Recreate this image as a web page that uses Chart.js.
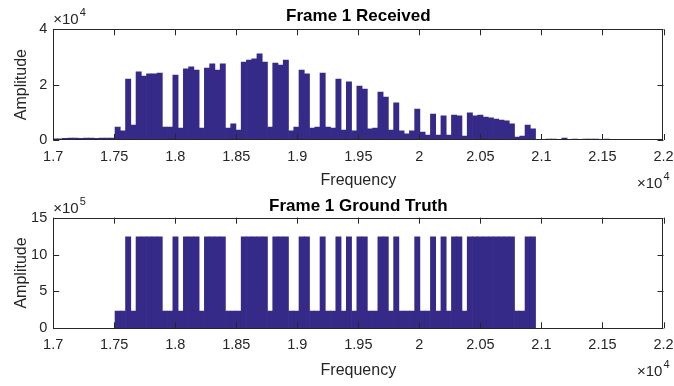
<!DOCTYPE html>
<html>
<head>
<meta charset="utf-8">
<script src="https://cdn.jsdelivr.net/npm/chart.js@4.4.1/dist/chart.umd.min.js"></script>
<style>
  html, body { margin: 0; padding: 0; background: #fff; }
  body { width: 674px; height: 386px; position: relative; overflow: hidden; }
  canvas { position: absolute; left: 0; }
  #rx { top: 0; }
  #gt { top: 190px; }
</style>
</head>
<body>
<canvas id="rx" width="674" height="193"></canvas>
<canvas id="gt" width="674" height="196"></canvas>
<script>
// FFT bin spacing (Hz) and first bin index of each series
const binHz = 44100 / 1024;
const rxFirstBin = 395;
const gtFirstBin = 407;

// Frame 1 received amplitude, x10^4
const received = [
  0.04, 0.04, 0.06, 0.07, 0.07, 0.06, 0.07, 0.07, 0.06, 0.07, 0.07, 0.07,
  0.47, 0.33, 2.2, 0.54, 2.46, 2.31, 2.39, 2.39, 2.42, 0.47,
  0.47, 2.35, 0.43, 2.57, 2.64, 2.53, 0.43, 2.6, 2.75, 2.53,
  2.75, 0.43, 0.58, 0.36, 2.82, 2.89, 2.93, 3.11, 2.82, 0.47,
  2.78, 2.71, 2.89, 0.33, 0.47, 2.53, 2.39, 0.43, 0.47, 2.42,
  0.47, 0.43, 2.2, 0.36, 2.1, 0.33, 1.95, 1.84, 0.4, 0.43,
  1.73, 1.55, 0.36, 1.34, 0.33, 0.22, 0.33, 1.12, 0.29, 0.18,
  0.94, 0.18, 0.87, 0.18, 0.9, 0.87, 0.14, 0.98, 0.87, 0.9,
  0.83, 0.8, 0.76, 0.72, 0.69, 0.58, 0.11, 0.14, 0.54, 0.4,
  0.02, 0.02, 0.03, 0.03, 0, 0.07, 0, 0.03, 0, 0.03, 0.03, 0.03, 0, 0.03
];

// Frame 1 ground truth amplitude, x10^5
const groundTruth = [
  2.35, 2.35, 12.4, 2.35, 12.4, 12.4, 12.4, 12.4, 12.4, 2.35,
  2.35, 12.4, 2.35, 12.4, 12.4, 12.4, 2.35, 12.4, 12.4, 12.4,
  12.4, 2.35, 2.35, 2.35, 12.4, 12.4, 12.4, 12.4, 12.4, 2.35,
  12.4, 12.4, 12.4, 2.35, 2.35, 12.4, 12.4, 2.35, 2.35, 12.4,
  2.35, 2.35, 12.4, 2.35, 12.4, 2.35, 12.4, 12.4, 2.35, 2.35,
  12.4, 12.4, 2.35, 12.4, 2.35, 2.35, 2.35, 12.4, 2.35, 2.35,
  12.4, 2.35, 12.4, 2.35, 12.4, 12.4, 2.35, 12.4, 12.4, 12.4,
  12.4, 12.4, 12.4, 12.4, 12.4, 12.4, 2.35, 2.35, 12.4, 12.4
];

const xTicks = [17000, 17500, 18000, 18500, 19000, 19500, 20000, 20500, 21000, 21500, 22000];

const barColor = '#352a87';
const axisColor = '#262626';
const fontFamily = '"Liberation Sans", Arial, Helvetica, sans-serif';

Chart.defaults.font.family = fontFamily;
Chart.defaults.color = axisColor;

function toPoints(values, firstBin) {
  return values.map((v, i) => ({ x: (firstBin + i) * binHz, y: v }));
}

function drawExp(ctx, exp, x, baseline, align) {
  const base = '\u00d710';
  ctx.font = '15px ' + fontFamily;
  const wb = ctx.measureText(base).width;
  ctx.font = '11px ' + fontFamily;
  const ws = ctx.measureText(exp).width;
  const x0 = align === 'right' ? x - wb - ws - 1 : x;
  ctx.textAlign = 'left';
  ctx.textBaseline = 'alphabetic';
  ctx.font = '15px ' + fontFamily;
  ctx.fillText(base, x0, baseline);
  ctx.font = '11px ' + fontFamily;
  ctx.fillText(exp, x0 + wb + 1, baseline - 8);
}

// matlab style box, inward ticks and exponent labels
const matlabBox = {
  id: 'matlabBox',
  afterDatasetsDraw(chart, args, opts) {
    const { ctx, chartArea: a, scales: { x, y } } = chart;
    ctx.save();
    ctx.strokeStyle = axisColor;
    ctx.lineWidth = 1;
    ctx.beginPath();
    x.ticks.forEach(t => {
      const px = Math.round(x.getPixelForValue(t.value)) + 0.5;
      ctx.moveTo(px, a.bottom); ctx.lineTo(px, a.bottom - 6);
      ctx.moveTo(px, a.top); ctx.lineTo(px, a.top + 6);
    });
    y.ticks.forEach(t => {
      const py = Math.round(y.getPixelForValue(t.value)) + 0.5;
      ctx.moveTo(a.left, py); ctx.lineTo(a.left + 6, py);
      ctx.moveTo(a.right, py); ctx.lineTo(a.right - 6, py);
    });
    ctx.stroke();
    ctx.strokeRect(Math.round(a.left) + 0.5, Math.round(a.top) + 0.5,
      Math.round(a.width) - 1, Math.round(a.height) - 1);
    ctx.fillStyle = axisColor;
    drawExp(ctx, opts.yExp, a.left, a.top - 5, 'left');
    drawExp(ctx, '4', a.right + 6, a.bottom + 48, 'right');
    ctx.restore();
  }
};

function makeConfig(opt) {
  return {
    type: 'bar',
    data: {
      datasets: [{
        data: opt.points,
        backgroundColor: barColor,
        borderWidth: 0,
        barPercentage: 1,
        categoryPercentage: 1
      }]
    },
    options: {
      responsive: false,
      animation: false,
      events: [],
      layout: { padding: 0 },
      plugins: {
        legend: { display: false },
        tooltip: { enabled: false },
        title: {
          display: true,
          text: opt.title,
          fullSize: false,
          color: '#000',
          font: { size: 17, weight: 'bold' },
          padding: { top: 5.8, bottom: opt.areaTop - 5.8 - 20.4 }
        },
        matlabBox: { yExp: opt.yExp }
      },
      scales: {
        x: {
          type: 'linear',
          offset: false,
          min: 17000,
          max: 22000,
          afterBuildTicks: s => { s.ticks = xTicks.map(v => ({ value: v })); },
          afterFit: s => {
            s.height = opt.xHeight;
            s.paddingLeft = 0;
            s.paddingRight = 10.5;
          },
          grid: { display: false, drawTicks: false, offset: false },
          border: { display: false },
          ticks: {
            autoSkip: false,
            maxRotation: 0,
            padding: opt.xTickPad,
            font: { size: 14.5 },
            callback: v => String(+(v / 1e4).toFixed(2))
          },
          title: {
            display: true,
            text: 'Frequency',
            font: { size: 16 },
            padding: { top: 0, bottom: opt.xTitlePad }
          }
        },
        y: {
          min: 0,
          max: opt.yMax,
          afterBuildTicks: s => { s.ticks = opt.yTicks.map(v => ({ value: v })); },
          afterFit: s => { s.width = 53.2; },
          grid: { display: false, drawTicks: false },
          border: { display: false },
          ticks: { padding: 6, font: { size: 14.5 }, callback: v => String(v) },
          title: {
            display: true,
            text: 'Amplitude',
            font: { size: 16 },
            padding: { top: 12.4, bottom: 0 }
          }
        }
      }
    },
    plugins: [matlabBox]
  };
}

new Chart(document.getElementById('rx'), makeConfig({
  points: toPoints(received, rxFirstBin),
  title: 'Frame 1 Received',
  areaTop: 29.3,
  xHeight: 53,
  xTickPad: 8.3,
  xTitlePad: 2.4,
  yMax: 4,
  yTicks: [0, 2, 4],
  yExp: '4'
}));

new Chart(document.getElementById('gt'), makeConfig({
  points: toPoints(groundTruth, gtFirstBin),
  title: 'Frame 1 Ground Truth',
  areaTop: 27.7,
  xHeight: 57.7,
  xTickPad: 8,
  xTitlePad: 5.4,
  yMax: 15,
  yTicks: [0, 5, 10, 15],
  yExp: '5'
}));
</script>
</body>
</html>
